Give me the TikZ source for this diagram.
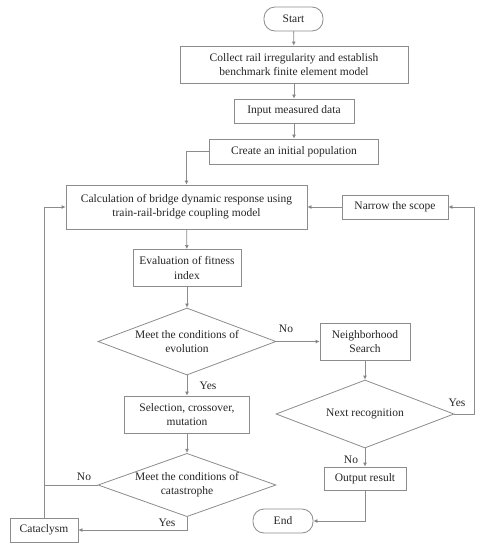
\documentclass[tikz,border=0pt]{standalone}
\usepackage{fontspec}
\setmainfont{Liberation Serif}
\usetikzlibrary{shapes.geometric,arrows.meta}
\begin{document}
\begin{tikzpicture}[x=1pt,y=-1pt,
 every node/.style={font=\fontsize{11.5}{14.3}\selectfont, text=black!85, align=center, inner sep=0pt},
 box/.style={draw=black!45, line width=0.8pt, rectangle},
 term/.style={box, rounded corners=11pt},
 dec/.style={draw=black!45, line width=0.8pt, diamond, aspect=2.7},
 line/.style={draw=black!45, line width=0.8pt},
 arr/.style={line, -{Latex[length=4pt,width=4pt,fill=black!85]}}]
\fill[white] (0,0) rectangle (485,550);
\useasboundingbox (0,0) rectangle (485,550);
\node[term, minimum width=59pt, minimum height=24pt] (start) at (293.5,19) {Start};
\node[box, minimum width=228pt, minimum height=37pt] (collect) at (294,64.5) {Collect rail irregularity and establish\\benchmark finite element model};
\node[box, minimum width=120pt, minimum height=24pt] (input) at (294,111) {Input measured data};
\node[box, minimum width=169pt, minimum height=25pt] (create) at (294,151.5) {Create an initial population};
\node[box, minimum width=241pt, minimum height=44pt] (calc) at (186.5,207) {Calculation of bridge dynamic response using\\train-rail-bridge coupling model};
\node[box, minimum width=106pt, minimum height=24pt] (narrow) at (395,207) {Narrow the scope};
\node[box, minimum width=108pt, minimum height=37pt] (eval) at (187,268) {Evaluation of fitness\\index};
\node[dec, minimum width=178pt, minimum height=67pt] (evo) at (187,341.5) {Meet the conditions of\\evolution};
\node[box, minimum width=90pt, minimum height=37pt] (nbh) at (365,341.5) {Neighborhood\\Search};
\node[dec, minimum width=178pt, minimum height=68pt] (next) at (365,414) {Next recognition};
\node[box, minimum width=82pt, minimum height=23pt] (out) at (365,478.5) {Output result};
\node[term, minimum width=60pt, minimum height=24pt] (end) at (283,521) {End};
\node[box, minimum width=125pt, minimum height=37pt] (sel) at (187,414.5) {Selection, crossover,\\mutation};
\node[dec, minimum width=178pt, minimum height=62pt] (cat) at (187,485) {Meet the conditions of\\catastrophe};
\node[box, minimum width=68pt, minimum height=24pt] (cata) at (44,530) {Cataclysm};
\coordinate (rr) at (474,414);
% connectors
\draw[arr] (start) -- (collect);
\draw[arr] (collect) -- (input);
\draw[arr] (input) -- (create);
\draw[arr] (create.west) -| (calc.north);
\draw[arr] (narrow.west) -- (calc.east);
\draw[arr] (calc) -- (eval);
\draw[arr] (eval) -- (evo);
\draw[arr] (evo.east) -- (nbh.west);
\node (no1) at (286,329) {No};
\draw[arr] (nbh) -- (next);
\draw[arr] (next.south) -- (out.north);
\node (no2) at (351,460) {No};
\draw[arr] (out.south) |- (end.east);
\draw[arr] (next.east) -- (rr) |- (narrow.east);
\node (yes2) at (457,403) {Yes};
\draw[arr] (evo.south) -- (sel.north);
\node (yes1) at (208,386) {Yes};
\draw[arr] (sel) -- (cat);
\draw[arr] (cat.south) |- (cata.east);
\node (yes3) at (167,523) {Yes};
\draw[line] (cat.west) -- (cata.north |- cat.west);
\node (no3) at (84,477) {No};
\draw[arr] (cata.north) |- (calc.west);
\end{tikzpicture}
\end{document}
